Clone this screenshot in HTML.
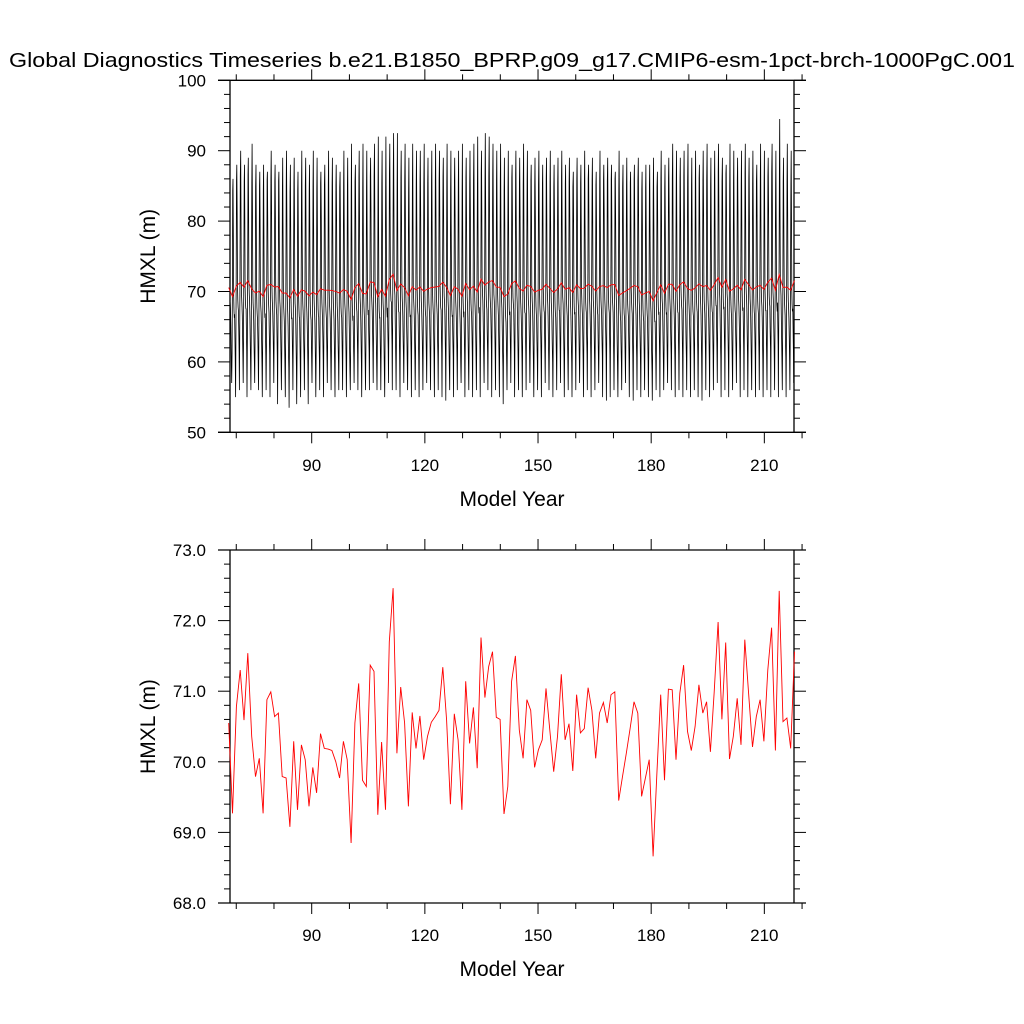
<!DOCTYPE html>
<html><head><meta charset="utf-8">
<style>
html,body{margin:0;padding:0;background:#fff;}
svg{display:block;font-family:"Liberation Sans",Arial,sans-serif;}
</style></head>
<body>
<svg id="chart" width="1024" height="1024" viewBox="0 0 1024 1024" xmlns="http://www.w3.org/2000/svg">
<text x="512" y="67" font-size="20" text-anchor="middle" textLength="1006" lengthAdjust="spacingAndGlyphs">Global Diagnostics Timeseries b.e21.B1850_BPRP.g09_g17.CMIP6-esm-1pct-brch-1000PgC.001</text>
<g id="topPanel"></g>
<g id="botPanel"></g>
</svg>
<script>
// annual-mean HMXL (red series), years 68..218
const annualMean = [70.55,69.27,70.78,71.30,70.59,71.54,70.36,69.79,70.05,69.27,70.88,70.99,70.64,70.69,69.79,69.77,69.08,70.29,69.32,70.24,70.03,69.37,69.92,69.56,70.40,70.19,70.18,70.16,70.00,69.77,70.29,70.03,68.85,70.55,71.11,69.74,69.65,71.37,71.28,
69.25,70.28,69.32,71.70,72.46,70.12,71.06,70.55,69.37,70.70,70.19,70.65,70.03,70.36,70.56,70.64,70.73,71.34,70.59,69.40,70.68,70.31,69.32,71.14,70.26,70.77,69.91,71.76,70.91,71.35,71.56,70.63,70.60,69.26,69.65,71.14,71.50,70.45,
70.05,70.88,70.73,69.92,70.17,70.31,71.04,70.45,69.86,70.36,71.24,70.31,70.54,69.87,70.95,70.41,70.47,71.05,70.73,70.05,70.69,70.84,70.55,70.95,70.99,69.45,69.79,70.12,70.47,70.85,70.69,69.51,69.77,70.03,68.66,69.84,70.95,69.74,
71.03,71.02,70.03,70.97,71.37,70.43,70.16,70.50,71.09,70.69,70.85,70.14,70.99,71.98,70.60,71.69,70.04,70.36,70.90,70.24,71.73,70.97,70.21,70.64,70.88,70.29,71.30,71.90,70.16,72.42,70.57,70.62,70.19,71.56];
const startYear = 68;
const endYear = 218;
// annual maximum / minimum of monthly HMXL (black series)
const annualPeak = [87,86,88,90,88,89,91,88,87,88, 87,90,88,87,89,90,88,89,87,90, 89,88,90,89,87,88,90,89,88,87, 90,89,91,88,90,91,90,89,91,92,
90,92,91,92.5,92.5,90,91,89,91,90, 90,91,89,90,91,90,89,91,90,89, 90,91,89,90,91,92,90,92.5,92,91, 90,91,89,90,88,90,89,91,90,88,
89,90,88,89,90,88,89,90,88,89, 87,89,88,90,88,89,87,90,88,89, 88,87,90,88,89,87,88,89,87,88, 88,89,87,90,88,89,91,90,89,90,
91,89,90,88,90,91,89,90,91,89, 88,91,90,89,90,91,89,90,88,91, 90,89,91,90,94.5,89,91,90,88];
const annualTrough = [56,57,55,56,57,55,56,57,56,55, 56,55,57,54,56,55,53.5,56,54,55, 56,54,57,55,56,55,57,56,55,56, 56,55,56,57,56,55,56,56,57,56,
56,55,57,56,56,55,57,56,55,56, 55,56,57,56,55,56,55,54.5,56,55, 56,57,55,56,55,56,55,57,56,55, 56,55,54,56,57,55,56,55,56,57,
55,56,55,57,56,55,56,57,55,56, 55,56,57,55,56,55,56,57,55,54.5, 55,56,55,56,57,55,54.5,56,55,56, 55,54.5,56,55,56,57,56,55,56,55,
56,55,56,55,54.5,56,55,56,57,55, 56,55,56,57,55,56,55,56,55,56, 55,56,55,56,55,56,55,56,57];
// mean seasonal cycle (Jan..Dec)
const monthlyClim = [66,63,60,57,62,72,85,89,80,70,68,67];
const xTickLabels = [90,120,150,180,210];
const topYTicks = [50,60,70,80,90,100];
const botYTicks = ["68.0","69.0","70.0","71.0","72.0","73.0"];

const NS="http://www.w3.org/2000/svg";
function mk(tag, attrs, parent){const e=document.createElementNS(NS,tag);for(const k in attrs)e.setAttribute(k,attrs[k]);parent.appendChild(e);return e;}
const XL=230, XR=794, HL=218, HR=806;
function xs(yr){return 311.7+(yr-90)*3.772;}
function yearOf(i,cnt){return startYear+i*(endYear-startYear)/(cnt-1);}

function panel(g, yT, yB, ymin, ymax, majorStep, minorStep, labels, labelY, xlabY){
  const ys=v=>yB-(v-ymin)/(ymax-ymin)*(yB-yT);
  mk('line',{x1:HL,y1:yT,x2:HR,y2:yT,stroke:'#000','stroke-width':1.3},g);
  mk('line',{x1:HL,y1:yB,x2:HR,y2:yB,stroke:'#000','stroke-width':1.3},g);
  mk('line',{x1:XL,y1:yT,x2:XL,y2:yB,stroke:'#000','stroke-width':1.3},g);
  mk('line',{x1:XR,y1:yT,x2:XR,y2:yB,stroke:'#000','stroke-width':1.3},g);
  const nMin=Math.round((ymax-ymin)/minorStep);
  for(let i=0;i<=nMin;i++){
    const v=ymin+i*minorStep, y=ys(v);
    const major=Math.abs(v/majorStep-Math.round(v/majorStep))<1e-6;
    const L=major?12:6;
    mk('line',{x1:XL-L,y1:y,x2:XL,y2:y,stroke:'#000','stroke-width':1},g);
    mk('line',{x1:XR,y1:y,x2:XR+L,y2:y,stroke:'#000','stroke-width':1},g);
  }
  labels.forEach((lab,i)=>{
    const t=mk('text',{x:206,y:ys(ymin+i*majorStep)+6,'font-size':17,'text-anchor':'end'},g);
    
    
    t.textContent=lab;
  });
  for(let yr=70; yr<=220; yr+=10){
    const x=xs(yr); if(x<HL||x>HR) continue;
    const major=(yr%30===0); const L=major?11:6;
    mk('line',{x1:x,y1:yB,x2:x,y2:yB+L,stroke:'#000','stroke-width':1},g);
    mk('line',{x1:x,y1:yT-L,x2:x,y2:yT,stroke:'#000','stroke-width':1},g);
  }
  xTickLabels.forEach(yr=>{
    const t=mk('text',{x:xs(yr),y:labelY,'font-size':17,'text-anchor':'middle'},g);
    
    
    t.textContent=yr;
  });
  const xt=mk('text',{x:512,y:xlabY,'font-size':21,'text-anchor':'middle'},g);
  
  
  xt.textContent='Model Year';
  const cy=(yT+yB)/2;
  const yt=mk('text',{x:155,y:cy,'font-size':21,'text-anchor':'middle',transform:`rotate(-90 155 ${cy})`},g);
  
  
  yt.textContent='HMXL (m)';
  return ys;
}

const topG=document.getElementById('topPanel'), botG=document.getElementById('botPanel');
const ysT=panel(topG,80.3,432.3,50,100,10,2,topYTicks.map(String),471,506);
const ysB=panel(botG,550,903,68,73,1,0.2,botYTicks,941,976);

const nPts=annualMean.length;
const pts=[];
const peakM=monthlyClim.indexOf(Math.max(...monthlyClim));
const minM=monthlyClim.indexOf(Math.min(...monthlyClim));
for(let i=0;i<nPts;i++){
  const y0=yearOf(i,nPts), dy=(endYear-startYear)/(nPts-1);
  for(let m=0;m<12;m++){
    let v=monthlyClim[m]+(annualMean[i]-70);
    if(m===peakM) v=annualPeak[Math.min(i,annualPeak.length-1)];
    if(m===minM) v=annualTrough[Math.min(i,annualTrough.length-1)];
    const x=xs(y0+(m-5.5)/12*dy);
    if(x<XL||x>XR) continue;
    pts.push(x.toFixed(1)+','+ysT(v).toFixed(1));
  }
}
const bl=mk('polyline',{points:pts.join(' '),fill:'none',stroke:'#000','stroke-width':0.8},topG);



function redLine(g,ys,name){
  const p=annualMean.map((v,i)=>xs(yearOf(i,nPts)).toFixed(1)+','+ys(v).toFixed(1)).join(' ');
  const l=mk('polyline',{points:p,fill:'none',stroke:'#ff0000','stroke-width':0.9},g);
  
  
}
redLine(topG,ysT,'annual-mean-line-top');
redLine(botG,ysB,'annual-mean-line');
</script>
</body></html>
